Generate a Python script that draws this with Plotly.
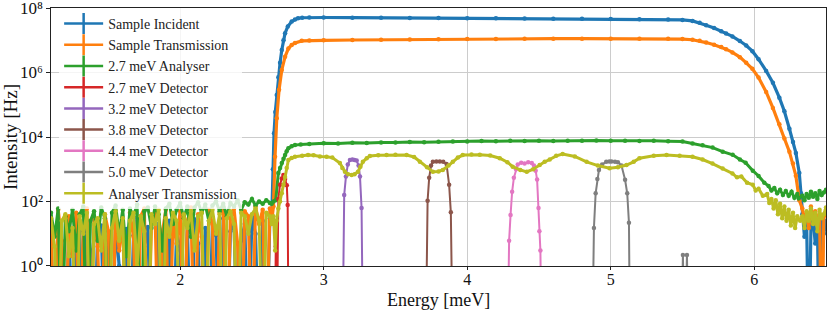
import plotly.graph_objects as go

FLOOR = 1e-3  # zero-count bins are drawn at the bottom, like a clipped log axis

# ---------------- energy grids (meV) ----------------
noise_E = [1.100, 1.125, 1.150, 1.175, 1.200, 1.225, 1.250, 1.275, 1.300, 1.325,
           1.350, 1.375, 1.400, 1.425, 1.450, 1.475, 1.500, 1.525, 1.550, 1.575,
           1.600, 1.625, 1.650, 1.675, 1.700, 1.725, 1.750, 1.775, 1.800, 1.825,
           1.850, 1.875, 1.900, 1.925, 1.950, 1.975, 2.000, 2.025, 2.050, 2.075,
           2.100, 2.125, 2.150, 2.175, 2.200, 2.225, 2.250, 2.275, 2.300, 2.325,
           2.350, 2.375, 2.400, 2.425, 2.450, 2.475, 2.500, 2.525, 2.550, 2.575,
           2.600, 2.625]
right_E = [6.335, 6.350, 6.365, 6.380, 6.395, 6.410, 6.425, 6.440, 6.455, 6.470, 6.485, 6.500]

# ---------------- Sample Incident ----------------
incident_noise = [8, 0, 15, 2, 0, 20, 0, 5, 12, 0,
                  25, 3, 0, 10, 18, 0, 6, 0, 22, 1,
                  0, 14, 0, 9, 30, 0, 4, 16, 0, 0,
                  20, 7, 0, 25, 0, 12, 3, 0, 18, 0,
                  28, 5, 0, 15, 0, 22, 9, 0, 30, 0,
                  12, 25, 0, 6, 20, 0, 35, 10, 0, 25,
                  0, 30]
incident_mid_E = [2.638, 2.646, 2.654, 2.663, 2.673, 2.684, 2.696, 2.708, 2.720, 2.731,
                  2.750, 2.777, 2.800, 2.821, 2.850, 2.900, 3.000, 3.200, 3.400, 3.600,
                  3.800, 4.000, 4.200, 4.400, 4.600, 4.800, 5.000, 5.200, 5.400, 5.500,
                  5.570, 5.620, 5.665, 5.720, 5.770, 5.804, 5.848, 5.900, 5.944, 5.987,
                  6.030, 6.083, 6.130, 6.175, 6.210, 6.245, 6.270, 6.290, 6.314, 6.326]
incident_mid_I = [30, 1.0e3, 1.3e4, 6.0e4, 2.0e5, 7.2e5, 2.0e6, 5.0e6, 1.0e7, 1.66e7,
                  2.7e7, 3.8e7, 4.4e7, 4.8e7, 5.0e7, 5.1e7, 5.1e7, 5.05e7, 5.0e7, 4.95e7,
                  4.9e7, 4.85e7, 4.8e7, 4.75e7, 4.7e7, 4.65e7, 4.6e7, 4.5e7, 4.4e7, 4.3e7,
                  4.0e7, 3.5e7, 2.95e7, 2.4e7, 1.9e7, 1.62e7, 1.32e7, 9.5e6, 6.9e6, 4.6e6,
                  2.6e6, 1.12e6, 4.8e5, 1.66e5, 6.3e4, 1.8e4, 7.0e3, 3.2e3, 760, 180]
incident_right = [40, 8, 25, 0, 15, 30, 5, 20, 0, 35, 10, 25]

# ---------------- Sample Transmission ----------------
trans_noise = [20, 0, 55, 6, 0, 35, 2, 45, 0, 15,
               60, 0, 30, 4, 0, 40, 12, 0, 50, 3,
               25, 0, 45, 8, 0, 35, 60, 0, 20, 45,
               0, 10, 55, 0, 30, 5, 50, 0, 25, 65,
               0, 40, 8, 0, 55, 20, 0, 45, 70, 0,
               30, 60, 5, 0, 50, 35, 0, 70, 20, 55,
               0, 60]
trans_mid_E = [2.638, 2.650, 2.661, 2.673, 2.689, 2.708, 2.731, 2.754, 2.777, 2.800,
               2.847, 2.900, 3.000, 3.200, 3.400, 3.600, 3.800, 4.000, 4.200, 4.400,
               4.600, 4.800, 5.000, 5.200, 5.400, 5.500, 5.570, 5.620, 5.665, 5.720,
               5.770, 5.804, 5.848, 5.900, 5.944, 5.987, 6.030, 6.083, 6.130, 6.175,
               6.210, 6.245, 6.270, 6.290, 6.314]
trans_mid_I = [25, 70, 2450, 3.8e4, 2.9e5, 1.2e6, 3.1e6, 5.6e6, 7.2e6, 8.3e6,
               9.6e6, 9.9e6, 1.0e7, 1.02e7, 1.04e7, 1.06e7, 1.08e7, 1.09e7, 1.1e7, 1.11e7,
               1.12e7, 1.12e7, 1.12e7, 1.12e7, 1.11e7, 1.09e7, 1.04e7, 9.6e6, 8.5e6, 7.3e6,
               6.2e6, 5.3e6, 4.2e6, 3.0e6, 2.0e6, 1.3e6, 7.0e5, 2.5e5, 8.0e4, 2.5e4,
               9.0e3, 3.5e3, 1.5e3, 630, 110]
trans_right = [60, 25, 45, 15, 70, 30, 50, 20, 40, 0, 35, 55]

# ---------------- 2.7 meV Analyser ----------------
analyser_noise = [45, 8, 60, 0, 35, 12, 55, 3, 40, 70,
                  0, 25, 50, 6, 65, 30, 0, 45, 75, 10,
                  55, 2, 60, 35, 80, 0, 50, 65, 15, 70,
                  40, 3, 60, 85, 20, 55, 90, 30, 70, 8,
                  65, 95, 45, 80, 25, 75, 100, 50, 85, 35,
                  90, 70, 110, 55, 95, 80, 120, 75, 100, 85,
                  110, 90]
analyser_mid_E = [2.638, 2.650, 2.666, 2.684, 2.696, 2.708, 2.720, 2.731, 2.742, 2.754,
                  2.777, 2.800, 2.840, 2.900, 3.000, 3.100, 3.200, 3.300, 3.400, 3.500,
                  3.600, 3.700, 3.800, 3.900, 4.000, 4.100, 4.200, 4.300, 4.400, 4.500,
                  4.600, 4.700, 4.800, 4.900, 5.000, 5.100, 5.200, 5.300, 5.400, 5.500,
                  5.570, 5.640, 5.710, 5.780, 5.850, 5.900, 5.940, 5.990, 6.030, 6.070,
                  6.100, 6.120, 6.140, 6.160, 6.180, 6.200, 6.220, 6.240, 6.260, 6.280,
                  6.300, 6.310]
analyser_mid_I = [85, 100, 110, 760, 1100, 1550, 2100, 2750, 3600, 4500,
                  5200, 5600, 5900, 6100, 6400, 6300, 6600, 6500, 6800, 6700,
                  7000, 6900, 7100, 7300, 7200, 7500, 7400, 7600, 7500, 7700,
                  7500, 7700, 7600, 7800, 7600, 7700, 7500, 7600, 7400, 7200,
                  6300, 5500, 4700, 3500, 2800, 2000, 1600, 900, 620, 380,
                  300, 220, 260, 180, 230, 160, 210, 150, 200, 130,
                  170, 125]
analyser_right = [150, 110, 170, 130, 200, 140, 180, 120, 210, 160, 190, 230]

# ---------------- Detectors ----------------
det27_E = [2.650, 2.660, 2.666, 2.672, 2.684, 2.696, 2.708, 2.719, 2.731, 2.743, 2.749, 2.756]
det27_I = [0, 0, 4, 0, 120, 330, 520, 660, 500, 320, 78, 0]

det32_E = [3.130, 3.143, 3.155, 3.168, 3.183, 3.200, 3.215, 3.230, 3.243, 3.253, 3.264, 3.275]
det32_I = [0, 160, 590, 1400, 1950, 2000, 1950, 1850, 1300, 590, 63, 0]

det38_E = [3.710, 3.724, 3.735, 3.748, 3.761, 3.785, 3.809, 3.833, 3.856, 3.874, 3.886, 3.900]
det38_I = [0, 105, 540, 1300, 1700, 1750, 1750, 1700, 1450, 330, 46, 0]

det44_E = [4.280, 4.292, 4.302, 4.313, 4.325, 4.340, 4.352, 4.376, 4.400, 4.425,
           4.450, 4.465, 4.477, 4.487, 4.497, 4.503, 4.510, 4.520]
det44_I = [0, 6, 38, 200, 540, 1000, 1400, 1600, 1500, 1650,
           1550, 1300, 900, 480, 63, 12, 3, 0]

det50_E = [4.870, 4.883, 4.895, 4.907, 4.918, 4.940, 4.969, 4.990, 5.006, 5.030,
           5.050, 5.075, 5.100, 5.115, 5.127, 5.135, 5.490, 5.503, 5.517, 5.531, 5.545]
det50_I = [0, 15, 180, 500, 950, 1400, 1700, 1750, 1750, 1700,
           1650, 1300, 470, 180, 22, 0, 0, 2.2, 0, 2.2, 0]

# ---------------- Analyser Transmission ----------------
atrans_noise = [30, 4, 0, 25, 40, 2, 15, 0, 35, 10,
                45, 0, 20, 30, 3, 40, 0, 15, 50, 6,
                30, 0, 25, 45, 1, 35, 12, 0, 40, 20,
                55, 0, 30, 8, 45, 25, 0, 40, 15, 50,
                3, 35, 45, 0, 25, 55, 10, 40, 0, 30,
                50, 20, 0, 45, 35, 10, 40, 60, 25, 0,
                45, 35]
atrans_mid_E = [2.638, 2.650, 2.662, 2.672, 2.684, 2.696, 2.708, 2.720, 2.731, 2.742,
                2.754, 2.777, 2.800, 2.850, 2.891, 2.930, 2.974, 3.020, 3.060, 3.113,
                3.130, 3.148, 3.170, 3.195, 3.215, 3.239, 3.256, 3.273, 3.300, 3.322,
                3.380, 3.438, 3.500, 3.578, 3.630, 3.670, 3.720, 3.761, 3.800, 3.830,
                3.870, 3.900, 3.935, 3.969, 4.030, 4.088, 4.160, 4.227, 4.280, 4.317,
                4.370, 4.415, 4.460, 4.505, 4.540, 4.575, 4.620, 4.665, 4.750, 4.832,
                4.910, 4.992, 5.050, 5.110, 5.160, 5.200, 5.300, 5.389, 5.480, 5.570,
                5.640, 5.709, 5.780, 5.848, 5.880, 5.910, 5.950, 5.990, 6.010, 6.030,
                6.060, 6.090, 6.105, 6.120, 6.135, 6.150, 6.165, 6.180, 6.195, 6.210,
                6.225, 6.240, 6.255, 6.270, 6.285, 6.300, 6.320]
atrans_mid_I = [20, 35, 3, 25, 60, 100, 180, 330, 575, 1100,
                1950, 2250, 2450, 2600, 2750, 2700, 2500, 2450, 2300, 1550,
                1100, 830, 700, 660, 700, 830, 1200, 1700, 2200, 2570,
                2700, 2750, 2800, 2750, 2400, 1700, 1150, 830, 850, 950,
                1300, 1700, 2300, 2750, 2850, 2800, 2650, 2200, 1650, 1200,
                950, 830, 1000, 1350, 1700, 2000, 2600, 2950, 2500, 1700,
                1300, 1070, 1150, 1350, 1700, 2200, 2600, 2750, 2600, 2450,
                2000, 1500, 1050, 740, 560, 600, 380, 330, 220, 250,
                150, 170, 90, 120, 60, 110, 40, 85, 30, 70,
                25, 55, 18, 45, 15, 35, 25]
atrans_right = [35, 15, 50, 25, 60, 20, 45, 12, 55, 30, 40, 65]

# ---------------- tick labels & styling ----------------
y_tick_vals = [1, 1e2, 1e4, 1e6, 1e8]
y_tick_text = ["10⁰", "10²", "10⁴", "10⁶", "10⁸"]
x_tick_vals = [2, 3, 4, 5, 6]

names = ["Sample Incident", "Sample Transmission", "2.7 meV Analyser", "2.7 meV Detector",
         "3.2 meV Detector", "3.8 meV Detector", "4.4 meV Detector", "5.0 meV Detector",
         "Analyser Transmission"]
colors = ["#1f77b4", "#ff7f0e", "#2ca02c", "#d62728", "#9467bd",
          "#8c564b", "#e377c2", "#7f7f7f", "#bcbd22"]
widths = [3.2, 3.2, 3.0, 2.0, 2.0, 2.0, 2.0, 2.0, 3.0]

series = [
    (noise_E + incident_mid_E + right_E, incident_noise + incident_mid_I + incident_right),
    (noise_E + trans_mid_E + right_E, trans_noise + trans_mid_I + trans_right),
    (noise_E + analyser_mid_E + right_E, analyser_noise + analyser_mid_I + analyser_right),
    (det27_E, det27_I),
    (det32_E, det32_I),
    (det38_E, det38_I),
    (det44_E, det44_I),
    (det50_E, det50_I),
    (noise_E + atrans_mid_E + right_E, atrans_noise + atrans_mid_I + atrans_right),
]

FONT = "Liberation Serif"
fig = go.Figure()
for (E, I), c, w in zip(series, colors, widths):
    y = [v if v > 0 else FLOOR for v in I]
    fig.add_trace(go.Scatter(x=E, y=y, mode="lines+markers", showlegend=False,
                             line=dict(color=c, width=w),
                             marker=dict(color=c, size=4.5), hoverinfo="skip"))
# legend entries styled like errorbar handles
for n, c in zip(names, colors):
    fig.add_trace(go.Scatter(x=[None], y=[None], mode="lines+markers", name=n,
                             line=dict(color=c, width=2.5),
                             marker=dict(symbol="line-ns", size=15, color=c,
                                         line=dict(color=c, width=2.5))))

fig.update_layout(
    width=830, height=312,
    margin=dict(l=51, r=4, t=8, b=46),
    paper_bgcolor="white", plot_bgcolor="white",
    font=dict(family=FONT, size=17, color="#111"),
    legend=dict(x=0.0105, y=1.0, xanchor="left", yanchor="top",
                bgcolor="rgba(255,255,255,0.8)", borderwidth=0,
                font=dict(family=FONT, size=14, color="#222"),
                itemwidth=39, tracegroupgap=0),
    xaxis=dict(range=[1.1, 6.5], tickvals=x_tick_vals, automargin=False,
               tickfont=dict(family=FONT, size=16, color="#111"),
               ticklabelposition="outside", ticklabelstandoff=-4,
               showgrid=True, gridcolor="#cccccc", gridwidth=1,
               showline=True, linecolor="#222", linewidth=1.2, mirror=True,
               ticks="outside", ticklen=3, tickcolor="#222", zeroline=False),
    yaxis=dict(type="log", range=[-0.002, 8.002], automargin=False,
               tickvals=y_tick_vals, ticktext=y_tick_text,
               ticklabeloverflow="allow",
               showgrid=True, gridcolor="#cccccc", gridwidth=1,
               showline=True, linecolor="#222", linewidth=1.2, mirror=True,
               ticks="outside", ticklen=3.5, tickcolor="#222", zeroline=False),
    annotations=[
        dict(text="Energy [meV]", xref="paper", yref="paper", x=0.5, y=-46/258,
             xanchor="center", yanchor="bottom", showarrow=False,
             font=dict(family=FONT, size=18, color="#111")),
        dict(text="Intensity [Hz]", xref="paper", yref="paper", x=-41/775, y=0.5,
             xanchor="center", yanchor="middle", showarrow=False, textangle=-90,
             font=dict(family=FONT, size=19, color="#111")),
    ],
)

fig.write_html("out.html",
               config={"displayModeBar": False},
               post_script="document.body.style.margin='0px';"
                           "document.body.style.overflow='hidden';")
